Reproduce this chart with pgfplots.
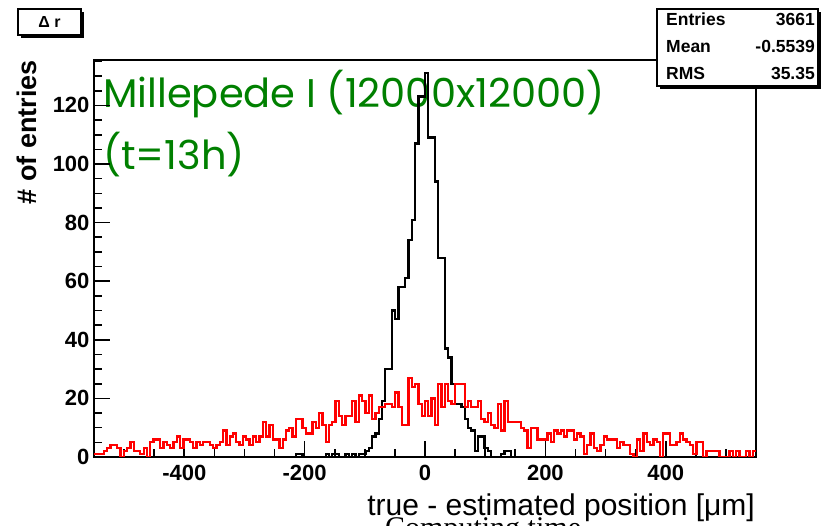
\documentclass[border=0pt]{standalone}
\usepackage{fontspec}
\setmainfont{Liberation Sans}
\newfontfamily\geo{Poppins}
\newfontfamily\serifr{Liberation Serif}
\usepackage{pgfplots}
\pgfplotsset{compat=1.18}
\definecolor{rootgreen}{RGB}{0,128,0}
\begin{document}
\begin{tikzpicture}[x=1pt,y=1pt]
\useasboundingbox (0,0) rectangle (821,526);
% title box
\fill[black] (21,488) rectangle (84,514);
\filldraw[fill=white,draw=black,line width=1.2pt] (18,491) rectangle (81,517);
\node[font=\bfseries\fontsize{16}{18}\selectfont] at (49.5,504) {Δ r};
% green annotation
\node[anchor=base west,text=rootgreen,font=\geo\fontsize{40}{44}\selectfont,inner sep=0] at (103,418) {Millepede I (12000x12000)};
\node[anchor=base west,text=rootgreen,font=\geo\fontsize{40}{44}\selectfont,inner sep=0] at (103,356) {(t=13h)};
\begin{axis}[
  at={(94pt,69pt)}, anchor=south west, scale only axis,
  width=662pt, height=397pt,
  xmin=-550, xmax=550, ymin=0, ymax=135.5,
  axis line style={line width=1.6pt},
  tick align=inside, xtick pos=bottom, ytick pos=left,
  xtick={-400,-200,0,200,400}, ytick={0,20,...,120},
  minor xtick={-500,-450,...,500}, minor ytick={0,5,...,135},
  major tick length=16pt, minor tick length=8pt,
  every tick/.style={black, line width=1.6pt},
  ticklabel style={font=\bfseries\fontsize{22}{24}\selectfont},
  /pgf/number format/assume math mode=true,
  xticklabel style={yshift=-5pt},
  yticklabel style={xshift=-1pt},
]
\addplot[const plot, black, line width=2.3pt] coordinates {
(-550,0) (-214.5,1) (-203.5,0) (-165,1) (-159.5,0) (-154,1) (-143,0) (-132,1) (-126.5,0) (-121,1) (-115.5,0) (-110,1) (-99,2) (-93.5,3) (-88,7) (-82.5,8) (-77,13) (-71.5,19) (-66,30) (-55,50) (-49.5,47) (-44,58) (-33,61) (-27.5,74) (-22,81) (-16.5,107) (-11,123) (0,131) (5.5,109) (16.5,94) (22,68) (33,37) (38.5,34) (44,25) (49.5,18) (60.5,17) (66,13) (71.5,10) (77,9) (82.5,2) (88,7) (99,3) (104.5,2) (110,0) (126.5,1) (132,2) (143,0) (550,0)
};
\addplot[const plot, red, line width=2.3pt] coordinates {
(-550,1) (-544.5,1) (-539,1) (-533.5,2) (-528,3) (-522.5,4) (-517,4) (-511.5,3) (-506,0) (-500.5,2)
(-495,3) (-489.5,5) (-484,2) (-478.5,2) (-473,1) (-467.5,3) (-462,0) (-456.5,5) (-451,6) (-445.5,6)
(-440,3) (-434.5,5) (-429,4) (-423.5,3) (-418,5) (-412.5,7) (-407,3) (-401.5,6) (-396,6) (-390.5,5)
(-385,3) (-379.5,5) (-374,4) (-368.5,5) (-363,5) (-357.5,4) (-352,3) (-346.5,4) (-341,5) (-335.5,9)
(-330,4) (-324.5,7) (-319,8) (-313.5,5) (-308,4) (-302.5,7) (-297,6) (-291.5,4) (-286,7) (-280.5,5)
(-275,7) (-269.5,12) (-264,7) (-258.5,11) (-253,6) (-247.5,6) (-242,3) (-236.5,6) (-231,9) (-225.5,10)
(-220,7) (-214.5,13) (-209,13) (-203.5,10) (-198,8) (-192.5,8) (-187,12) (-181.5,10) (-176,15) (-170.5,11)
(-165,5) (-159.5,11) (-154,12) (-148.5,19) (-143,14) (-137.5,11) (-132,14) (-126.5,14) (-121,19) (-115.5,12)
(-110,21) (-104.5,19) (-99,15) (-93.5,21) (-88,13) (-82.5,15) (-77,17) (-71.5,17) (-66,18) (-60.5,18)
(-55,17) (-49.5,22) (-44,17) (-38.5,11) (-33,11) (-27.5,27) (-22,24) (-16.5,25) (-11,18) (-5.5,14)
(0,19) (5.5,14) (11,20) (16.5,11) (22,25) (27.5,17) (33,25) (38.5,19) (44,18) (49.5,25)
(55,25) (60.5,25) (66,17) (71.5,19) (77,17) (82.5,17) (88,19) (93.5,13) (99,12) (104.5,15)
(110,11) (115.5,10) (121,18) (126.5,9) (132,19) (137.5,12) (143,12) (148.5,12) (154,12) (159.5,10)
(165,9) (170.5,3) (176,10) (181.5,10) (187,6) (192.5,6) (198,6) (203.5,8) (209,5) (214.5,9)
(220,8) (225.5,9) (231,7) (236.5,9) (242,9) (247.5,6) (253,8) (258.5,7) (264,1) (269.5,4)
(275,8) (280.5,3) (286,2) (291.5,4) (297,7) (302.5,6) (308,6) (313.5,6) (319,3) (324.5,5)
(330,4) (335.5,4) (341,1) (346.5,0) (352,6) (357.5,2) (363,8) (368.5,5) (374,4) (379.5,6)
(385,5) (390.5,0) (396,8) (401.5,8) (407,4) (412.5,4) (418,5) (423.5,8) (429,6) (434.5,5)
(440,4) (445.5,1) (451,5) (456.5,5) (462,0) (467.5,2) (473,2) (478.5,2) (484,2) (489.5,0)
(495,0) (500.5,0) (506,2) (511.5,0) (517,2) (522.5,0) (528,0) (533.5,2) (539,0) (544.5,2) (550,2)
};
\end{axis}
% axis titles
\node[rotate=90,anchor=base east,font=\bfseries\fontsize{27}{30}\selectfont,inner sep=0] at (36,466) {\# of entries};
\node[anchor=base east,font=\fontsize{30}{33}\selectfont,inner sep=0] at (755,10) {true - estimated position [μm]};
% stats box
\fill[black] (660,437) rectangle (821,514);
\filldraw[fill=white,draw=black,line width=1.2pt] (657,440) rectangle (818,517);
\node[anchor=base west,font=\bfseries\fontsize{17.5}{20}\selectfont,inner sep=0] at (666,500) {Entries};
\node[anchor=base east,font=\bfseries\fontsize{17.5}{20}\selectfont,inner sep=0] at (815,500) {3661};
\node[anchor=base west,font=\bfseries\fontsize{17.5}{20}\selectfont,inner sep=0] at (666,473) {Mean};
\node[anchor=base east,font=\bfseries\fontsize{17.5}{20}\selectfont,inner sep=0] at (815,473) {-0.5539};
\node[anchor=base west,font=\bfseries\fontsize{17.5}{20}\selectfont,inner sep=0] at (666,446) {RMS};
\node[anchor=base east,font=\bfseries\fontsize{17.5}{20}\selectfont,inner sep=0] at (815,446) {35.35};
% clipped caption below
\node[anchor=base west,font=\serifr\fontsize{30}{34}\selectfont,inner sep=0] at (385,-12) {Computing time};
\end{tikzpicture}
\end{document}
